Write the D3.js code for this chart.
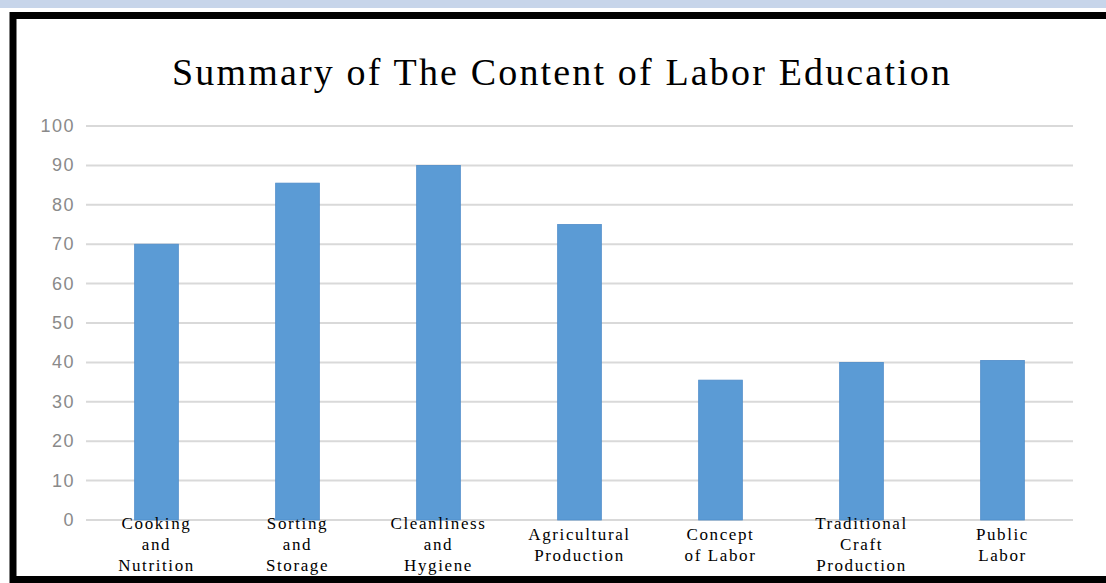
<!DOCTYPE html>
<html>
<head>
<meta charset="utf-8">
<script src="https://cdn.jsdelivr.net/npm/d3@7"></script>
<style>
  body { margin: 0; background: #fff; }
  svg { display: block; }
</style>
</head>
<body>
<div id="chart"></div>
<script>
// chart data
var categories = ["Cooking and Nutrition", "Sorting and Storage", "Cleanliness and Hygiene",
  "Agricultural Production", "Concept of Labor", "Traditional Craft Production", "Public Labor"];
var labelLines = [["Cooking", "and", "Nutrition"], ["Sorting", "and", "Storage"],
  ["Cleanliness", "and", "Hygiene"], ["Agricultural", "Production"], ["Concept", "of Labor"],
  ["Traditional", "Craft", "Production"], ["Public", "Labor"]];
var values = [70, 85.5, 90, 75, 35.5, 40, 40.5];
var yTicks = [0, 10, 20, 30, 40, 50, 60, 70, 80, 90, 100];
var title = "Summary of The Content of Labor Education";

var W = 1106, H = 583;
var margin = {top: 126, right: 33, bottom: 64, left: 86},
    width = W - margin.left - margin.right,
    height = H - margin.top - margin.bottom;

var svg = d3.select("#chart").append("svg")
  .attr("width", W).attr("height", H);

// frame: light blue strip and thick black border
svg.append("rect").attr("x", 0).attr("y", 0).attr("width", W).attr("height", 8).attr("fill", "#c7d5ea");
svg.append("rect").attr("x", 13).attr("y", 15.5).attr("width", W + 20).attr("height", 564)
  .attr("fill", "none").attr("stroke", "#000").attr("stroke-width", 7);

svg.append("text")
  .attr("x", 561).attr("y", 85)
  .attr("text-anchor", "middle")
  .attr("textLength", 778).attr("lengthAdjust", "spacing")
  .style("font-family", "'Liberation Serif', 'DejaVu Serif', serif")
  .style("font-size", "38px")
  .attr("fill", "#000")
  .text(title);

var g = svg.append("g").attr("transform", "translate(" + margin.left + "," + margin.top + ")");

var x = d3.scaleBand().domain(categories).range([0, width]).paddingInner(0.69).paddingOuter(0.345);
var y = d3.scaleLinear().domain([0, 100]).range([height + 1, 0]);

// gridlines
g.selectAll(".grid").data(yTicks).enter().append("line")
  .attr("x1", 0).attr("x2", width)
  .attr("y1", d => y(d)).attr("y2", d => y(d))
  .attr("stroke", "#d9d9d9").attr("stroke-width", 2);

// y axis labels
g.selectAll(".ylab").data(yTicks).enter().append("text")
  .attr("x", -11).attr("y", d => y(d) + 6)
  .attr("text-anchor", "end")
  .style("font-family", "'Liberation Sans', Arial, sans-serif")
  .style("font-size", "18px")
  .style("letter-spacing", "1.5px")
  .attr("fill", "#8a8a8a")
  .text(d => d);

// bars
g.selectAll(".bar").data(values).enter().append("rect")
  .attr("x", (d, i) => x(categories[i]))
  .attr("y", d => y(d))
  .attr("width", x.bandwidth())
  .attr("height", d => y(0) - y(d))
  .attr("fill", "#5b9bd5")
  .attr("stroke", "#4f8cc9").attr("stroke-width", 0.8);

// category labels
var lineH = 21;
g.selectAll(".xlab").data(labelLines).enter().append("text")
  .attr("text-anchor", "middle")
  .style("font-family", "'Liberation Serif', 'DejaVu Serif', serif")
  .style("font-size", "17px")
  .style("letter-spacing", "1.6px")
  .attr("fill", "#000")
  .each(function(lines, i) {
    var t = d3.select(this);
    var cx = x(categories[i]) + x.bandwidth() / 2;
    var y0 = 424 - (lines.length - 1) * lineH / 2;
    lines.forEach(function(s, k) {
      t.append("tspan").attr("x", cx).attr("y", y0 + k * lineH).text(s);
    });
  });
</script>
</body>
</html>
